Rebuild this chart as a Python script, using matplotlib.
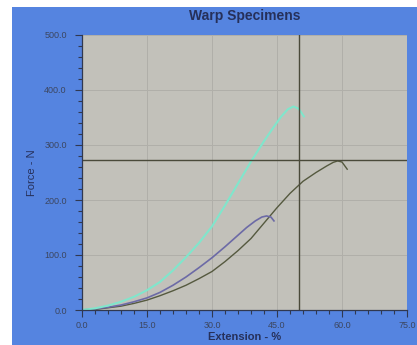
import matplotlib
matplotlib.use("Agg")
import matplotlib.pyplot as plt
from matplotlib.patches import Rectangle
from matplotlib.ticker import MultipleLocator, FormatStrFormatter

plt.rcParams['font.family'] = ['Liberation Sans', 'DejaVu Sans']

title = "Warp Specimens"
xlabel = "Extension - %"
ylabel = "Force - N"

cyan_x = [0, 3, 6, 9, 12, 15, 18, 21, 24, 27, 30, 33, 36, 39, 42, 44, 46, 47.5, 48.8, 50.0, 51.2]
cyan_y = [0, 3, 8, 15, 24, 36, 51, 72, 96, 122, 152, 190, 230, 270, 307, 330, 352, 365, 370, 366, 352]

purple_x = [0, 3, 6, 9, 12, 15, 18, 21, 24, 27, 30, 33, 36, 38, 40, 41.5, 42.6, 43.6, 44.3]
purple_y = [0, 2, 5, 9, 15, 22, 32, 45, 60, 77, 95, 115, 136, 150, 162, 169, 171, 169, 162]

olive_x = [0, 3, 6, 9, 12, 15, 18, 21, 24, 27, 30, 33, 36, 39, 42, 45, 48, 51, 54, 56.5, 58, 59, 60, 61.2]
olive_y = [0, 1, 4, 7, 12, 18, 26, 35, 45, 57, 70, 88, 108, 130, 158, 186, 212, 234, 250, 262, 268.5, 271, 269, 256]

cross_x = 50.0
cross_y = 273.0

fig = plt.figure(figsize=(4.17, 3.45), dpi=100, facecolor="white")
fig.patches.append(Rectangle((12 / 417, 0), 1, 1 - 7 / 345, transform=fig.transFigure,
                             facecolor="#5584e0", edgecolor="none", zorder=-10))

ax = fig.add_axes([82 / 417, 1 - 310 / 345, (407 - 82) / 417, (310 - 35) / 345])
ax.set_zorder(5)
ax.set_facecolor("#c2c1ba")
ax.set_xlim(0, 75)
ax.set_ylim(0, 500)

ax.xaxis.set_major_locator(MultipleLocator(15))
ax.xaxis.set_minor_locator(MultipleLocator(3))
ax.yaxis.set_major_locator(MultipleLocator(100))
ax.yaxis.set_minor_locator(MultipleLocator(20))
ax.xaxis.set_major_formatter(FormatStrFormatter("%.1f"))
ax.yaxis.set_major_formatter(FormatStrFormatter("%.1f"))

ax.grid(True, which="major", color="#b0afa9", linewidth=0.7)
ax.set_axisbelow(True)

ax.plot(olive_x, olive_y, color="#55593f", linewidth=1.0)
ax.plot(purple_x, purple_y, color="#6c6aa6", linewidth=1.2)
ax.plot(cyan_x, cyan_y, color="#80e6cc", linewidth=1.5)

ax.axvline(cross_x, color="#4a4a3a", linewidth=1.0)
ax.axhline(cross_y, color="#4a4a3a", linewidth=1.0)

for s in ["top", "right"]:
    ax.spines[s].set_visible(False)
for s in ["left", "bottom"]:
    ax.spines[s].set_color("#303850")
    ax.spines[s].set_linewidth(0.9)

ax.tick_params(which="major", length=5, width=0.8, color="#303850",
               labelsize=6.5, labelcolor="#3c4660")
ax.tick_params(which="minor", length=3, width=0.8, color="#303850")
ax.tick_params(axis="y", pad=6)
ax.tick_params(axis="x", pad=3)

ax.set_title(title, fontsize=10, fontweight="bold", color="#26305a", pad=11)
ax.set_xlabel(xlabel, fontsize=8, fontweight="bold", color="#26305a", labelpad=1)
ax.set_ylabel(ylabel, fontsize=8, color="#26305a", labelpad=5)

fig.savefig("out.png", dpi=100, facecolor=fig.get_facecolor())
